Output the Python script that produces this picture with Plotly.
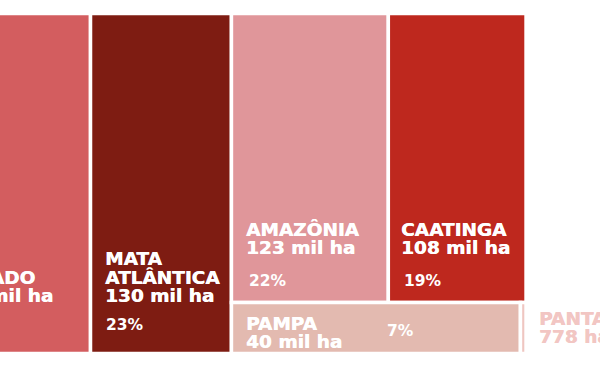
import plotly.graph_objects as go

# ---------------- data ----------------
biomes = ["Cerrado", "Mata Atlântica", "Amazônia", "Caatinga", "Pampa", "Pantanal"]
area_mil_ha = [163, 130, 123, 108, 40, 0.778]
value_labels = ["163 mil ha", "130 mil ha", "123 mil ha", "108 mil ha", "40 mil ha", "778 ha"]
pct_labels = ["29%", "23%", "22%", "19%", "7%", ""]
name_labels = [["CERRADO"], ["MATA", "ATLÂNTICA"], ["AMAZÔNIA"], ["CAATINGA"], ["PAMPA"], ["PANTANAL"]]

# ---------------- styles ----------------
colors = ["#d35d5f", "#7e1c12", "#e0969a", "#be281e", "#e3bab0", "#efc6c1"]
FONT = "DejaVu Sans"
NAME_SIZE = 18.5
PCT_SIZE = 15.5
LINE_STEP = 18.5
# label offsets in px: value line above rect bottom, pct line above rect bottom, paddings.
# anchor: "left" = rect left edge, "right" = rect right edge (text right-aligned), "outside" = right edge, text to the right
LABEL_POS = {
    "Cerrado":        dict(anchor="right", val_up=58, pct_up=None, line_shift=[-53.5, -35.5], color="white"),
    "Mata Atlântica": dict(anchor="left", val_up=58, pct_up=29, pad=12.5, pct_pad=13.5, color="white"),
    "Amazônia":       dict(anchor="left", val_up=54.5, pct_up=21.5, pad=13, pct_pad=16, color="white"),
    "Caatinga":       dict(anchor="left", val_up=54.5, pct_up=21.5, pad=10.5, pct_pad=13.5, color="white"),
    "Pampa":          dict(anchor="left", val_up=12, pct_up=22.5, pad=13, pct_pad=154, color="white"),
    "Pantanal":       dict(anchor="outside", val_up=17, pct_up=None, pad=11, color="#f2c6c3"),
}

# ---------------- slice-and-dice layout ----------------
val = dict(zip(biomes, area_mil_ha))
rects = {}
x = 0.0
for b in ["Cerrado", "Mata Atlântica"]:
    rects[b] = (x, 0.0, val[b], 1.0)
    x += val[b]
rows = [["Amazônia", "Caatinga"], ["Pampa", "Pantanal"]]
gw = sum(val[b] for r in rows for b in r)
ytop = 1.0
for r in rows:
    h = sum(val[b] for b in r) / gw
    xx = x
    for b in r:
        w = val[b] / h
        rects[b] = (xx, ytop - h, w, h)
        xx += w
    ytop -= h

fig = go.Figure()
fig.add_trace(go.Bar(
    x=[rects[b][0] + rects[b][2] / 2 for b in biomes],
    y=[rects[b][3] for b in biomes],
    base=[rects[b][1] for b in biomes],
    width=[rects[b][2] for b in biomes],
    marker=dict(color=colors, line=dict(color="white", width=3.5)),
    hoverinfo="skip",
    showlegend=False,
))

annotations = []
for i, b in enumerate(biomes):
    x0, y0, w, h = rects[b]
    cfg = LABEL_POS[b]
    mode = cfg["anchor"]
    ax = x0 if mode == "left" else x0 + w
    lines = name_labels[i] + [value_labels[i]]
    n = len(lines)
    shadow = "0.5px 0px 0px " + cfg["color"]
    for k, txt in enumerate(lines):
        up = cfg["val_up"] + LINE_STEP * (n - 1 - k)
        if mode == "right":
            xa, xs = "right", cfg["line_shift"][k]
        else:
            xa, xs = "left", cfg["pad"]
        annotations.append(dict(
            x=ax, y=y0, xref="x", yref="y", text=txt, showarrow=False,
            xanchor=xa, yanchor="middle", xshift=xs, yshift=up,
            font=dict(family=FONT, size=NAME_SIZE, color=cfg["color"], weight="bold", shadow=shadow),
        ))
    if pct_labels[i] and cfg["pct_up"] is not None:
        annotations.append(dict(
            x=ax, y=y0, xref="x", yref="y", text=pct_labels[i], showarrow=False,
            xanchor="left", yanchor="middle", xshift=cfg["pct_pad"], yshift=cfg["pct_up"],
            font=dict(family=FONT, size=PCT_SIZE, color=cfg["color"], weight="bold"),
        ))

X_RANGE = [79.5, 633.0]
Y_RANGE = [-0.0485, 1.0397]

fig.update_layout(
    width=600, height=370,
    margin=dict(l=0, r=0, t=0, b=0),
    paper_bgcolor="white", plot_bgcolor="white",
    barmode="overlay",
    xaxis=dict(range=X_RANGE, visible=False, fixedrange=True),
    yaxis=dict(range=Y_RANGE, visible=False, fixedrange=True),
    annotations=annotations,
)

fig.write_html(
    "out.html",
    config={"displayModeBar": False},
    post_script="document.body.style.margin='0';document.body.style.overflow='hidden';",
)
